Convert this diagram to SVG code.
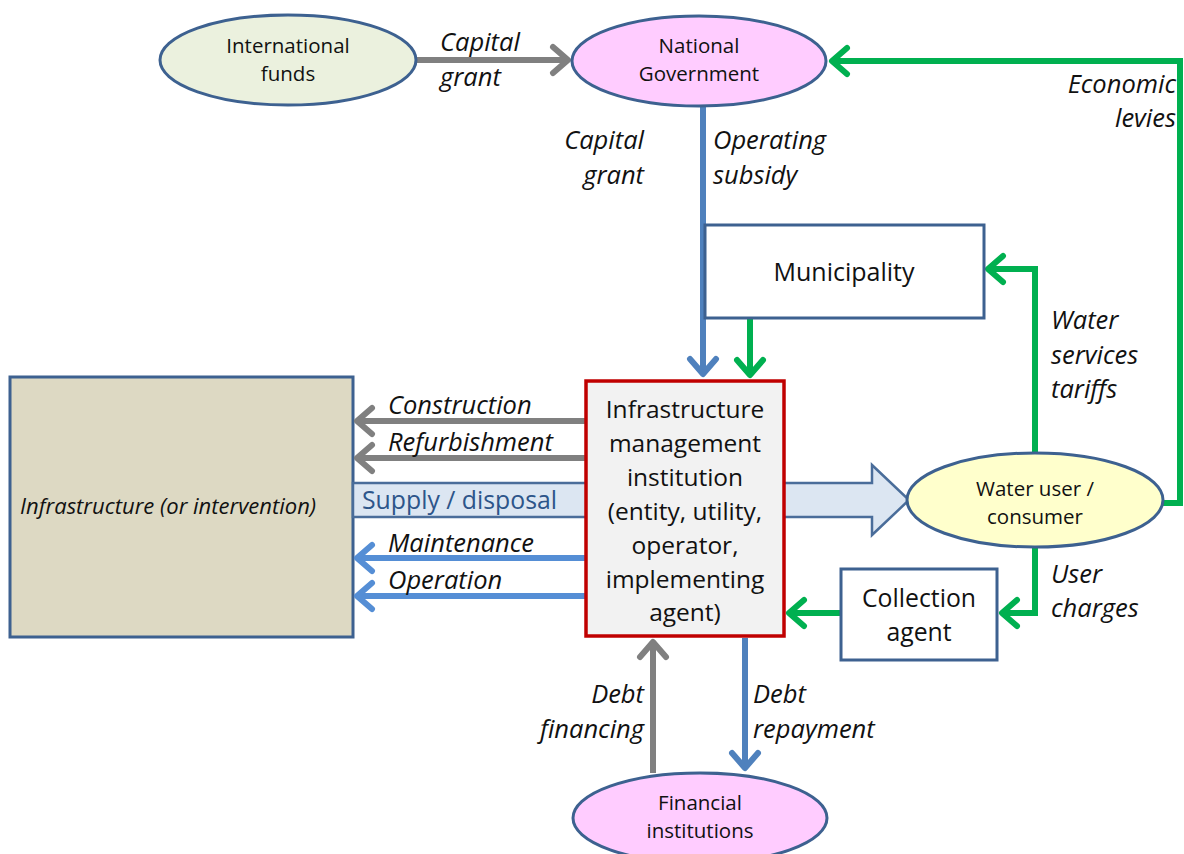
<svg xmlns="http://www.w3.org/2000/svg" width="1184" height="854" viewBox="0 0 1184 854">
<style>
  .node { stroke: #3d6190; stroke-width: 3; }
  .t { font-family: "Open Sans", "Noto Sans", sans-serif; fill: #111; text-anchor: middle; }
  .lbl { font-family: "Open Sans", "Noto Sans", sans-serif; font-style: italic; font-size: 25.5px; fill: #111; }
  .gray { stroke: #808080; stroke-width: 6; fill: none; }
  .blue { stroke: #558ed5; stroke-width: 6; fill: none; }
  .blue2 { stroke: #4f81bd; stroke-width: 6; fill: none; }
  .green { stroke: #00b050; stroke-width: 6; fill: none; }
</style>
<defs>
  <marker id="ahGray" markerUnits="userSpaceOnUse" viewBox="-22 -18 28 36" refX="0" refY="0" markerWidth="28" markerHeight="36" orient="auto">
    <path d="M-15,-13 L0,0 L-15,13" fill="none" stroke="#808080" stroke-width="6" stroke-linecap="round" stroke-linejoin="round"/>
  </marker>
  <marker id="ahBlue" markerUnits="userSpaceOnUse" viewBox="-22 -18 28 36" refX="0" refY="0" markerWidth="28" markerHeight="36" orient="auto">
    <path d="M-15,-13 L0,0 L-15,13" fill="none" stroke="#558ed5" stroke-width="6" stroke-linecap="round" stroke-linejoin="round"/>
  </marker>
  <marker id="ahBlue2" markerUnits="userSpaceOnUse" viewBox="-22 -18 28 36" refX="0" refY="0" markerWidth="28" markerHeight="36" orient="auto">
    <path d="M-15,-13 L0,0 L-15,13" fill="none" stroke="#4f81bd" stroke-width="6" stroke-linecap="round" stroke-linejoin="round"/>
  </marker>
  <marker id="ahGreen" markerUnits="userSpaceOnUse" viewBox="-22 -18 28 36" refX="0" refY="0" markerWidth="28" markerHeight="36" orient="auto">
    <path d="M-15,-13 L0,0 L-15,13" fill="none" stroke="#00b050" stroke-width="6" stroke-linecap="round" stroke-linejoin="round"/>
  </marker>
</defs>

<rect width="1184" height="854" fill="#ffffff"/>

<!-- Infrastructure block -->
<g id="infrastructure">
  <rect class="node" x="10" y="377" width="343" height="260" fill="#ddd9c3"/>
  <text class="lbl" x="20" y="514" style="font-size:22px">Infrastructure (or intervention)</text>
</g>

<!-- Supply / disposal flow (wide arrow) -->
<g id="supply">
  <path d="M353,483 L872,483 L872,465 L909,500 L872,535 L872,517 L353,517 Z" fill="#dce6f2" stroke="#4a6d9a" stroke-width="2.5"/>
  <text x="362" y="509" font-family="'Open Sans', 'Noto Sans', sans-serif" font-size="24.8" fill="#2d558a">Supply / disposal</text>
</g>

<!-- Connectors -->
<g id="connectors">
  <!-- International funds -> National Government -->
  <line class="gray" x1="417" y1="60" x2="568" y2="60" marker-end="url(#ahGray)"/>
  <!-- National Government -> Infrastructure management institution -->
  <line class="blue2" x1="703" y1="106" x2="703" y2="374" marker-end="url(#ahBlue2)"/>
  <!-- Municipality -> institution -->
  <line class="green" x1="750" y1="318" x2="750" y2="375" marker-end="url(#ahGreen)"/>
  <!-- Water user -> National Government (economic levies) -->
  <polyline class="green" points="1162,503 1180,503 1180,61 832,61" marker-end="url(#ahGreen)"/>
  <!-- Water user -> Municipality (tariffs) -->
  <polyline class="green" points="1035,453 1035,269 988,269" marker-end="url(#ahGreen)"/>
  <!-- Water user -> Collection agent -->
  <polyline class="green" points="1035,548 1035,613 1002,613" marker-end="url(#ahGreen)"/>
  <!-- Collection agent -> institution -->
  <line class="green" x1="841" y1="613" x2="789" y2="613" marker-end="url(#ahGreen)"/>
  <!-- institution -> Infrastructure -->
  <line class="gray" x1="585" y1="421" x2="357" y2="421" marker-end="url(#ahGray)"/>
  <line class="gray" x1="585" y1="458" x2="357" y2="458" marker-end="url(#ahGray)"/>
  <line class="blue" x1="585" y1="558" x2="357" y2="558" marker-end="url(#ahBlue)"/>
  <line class="blue" x1="585" y1="596" x2="357" y2="596" marker-end="url(#ahBlue)"/>
  <!-- Financial institutions <-> institution -->
  <line class="gray" x1="653" y1="773" x2="653" y2="642" marker-end="url(#ahGray)"/>
  <line class="blue2" x1="745" y1="638" x2="745" y2="768" marker-end="url(#ahBlue2)"/>
</g>

<!-- Flow labels -->
<g id="labels">
  <text class="lbl" x="440" y="51">Capital</text>
  <text class="lbl" x="440" y="86">grant</text>
  <text class="lbl" x="644" y="149" text-anchor="end">Capital</text>
  <text class="lbl" x="644" y="184" text-anchor="end">grant</text>
  <text class="lbl" x="713" y="149">Operating</text>
  <text class="lbl" x="713" y="184">subsidy</text>
  <text class="lbl" x="1176" y="93" text-anchor="end">Economic</text>
  <text class="lbl" x="1176" y="127" text-anchor="end">levies</text>
  <text class="lbl" x="1051" y="329">Water</text>
  <text class="lbl" x="1051" y="364">services</text>
  <text class="lbl" x="1051" y="398">tariffs</text>
  <text class="lbl" x="1051" y="583">User</text>
  <text class="lbl" x="1051" y="617">charges</text>
  <text class="lbl" x="388" y="414">Construction</text>
  <text class="lbl" x="388" y="451">Refurbishment</text>
  <text class="lbl" x="388" y="552">Maintenance</text>
  <text class="lbl" x="388" y="589">Operation</text>
  <text class="lbl" x="644" y="703" text-anchor="end">Debt</text>
  <text class="lbl" x="644" y="738" text-anchor="end">financing</text>
  <text class="lbl" x="753" y="703">Debt</text>
  <text class="lbl" x="753" y="738">repayment</text>
</g>

<!-- Nodes -->
<g id="international-funds">
  <ellipse class="node" cx="288" cy="60" rx="128" ry="45" fill="#ebf1de"/>
  <text class="t" x="288" y="53" font-size="20.5">International</text>
  <text class="t" x="288" y="81" font-size="20.5">funds</text>
</g>

<g id="national-government">
  <ellipse class="node" cx="699" cy="61" rx="127" ry="45" fill="#ffccff"/>
  <text class="t" x="699" y="53" font-size="20.5">National</text>
  <text class="t" x="699" y="81" font-size="20.5">Government</text>
</g>

<g id="municipality">
  <rect class="node" x="705" y="225" width="279" height="93" fill="#ffffff"/>
  <text class="t" x="844" y="281" font-size="25">Municipality</text>
</g>

<g id="institution">
  <rect x="586" y="381" width="198" height="255" fill="#f2f2f2" stroke="#c00000" stroke-width="3.5"/>
  <text class="t" x="685" y="418" font-size="24.5">Infrastructure</text>
  <text class="t" x="685" y="452" font-size="24.5">management</text>
  <text class="t" x="685" y="486" font-size="24.5">institution</text>
  <text class="t" x="685" y="520" font-size="24.5">(entity, utility,</text>
  <text class="t" x="685" y="554" font-size="24.5">operator,</text>
  <text class="t" x="685" y="588" font-size="24.5">implementing</text>
  <text class="t" x="685" y="621" font-size="24.5">agent)</text>
</g>

<g id="water-user">
  <ellipse class="node" cx="1035" cy="500" rx="128" ry="47" fill="#ffffcc"/>
  <text class="t" x="1035" y="496" font-size="20.5">Water user /</text>
  <text class="t" x="1035" y="524" font-size="20.5">consumer</text>
</g>

<g id="collection-agent">
  <rect class="node" x="841" y="569" width="156" height="91" fill="#ffffff"/>
  <text class="t" x="919" y="607" font-size="24.8">Collection</text>
  <text class="t" x="919" y="641" font-size="24.8">agent</text>
</g>

<g id="financial-institutions">
  <ellipse class="node" cx="700" cy="818" rx="127" ry="45" fill="#ffccff"/>
  <text class="t" x="700" y="810" font-size="20.5">Financial</text>
  <text class="t" x="700" y="838" font-size="20.5">institutions</text>
</g>
</svg>
